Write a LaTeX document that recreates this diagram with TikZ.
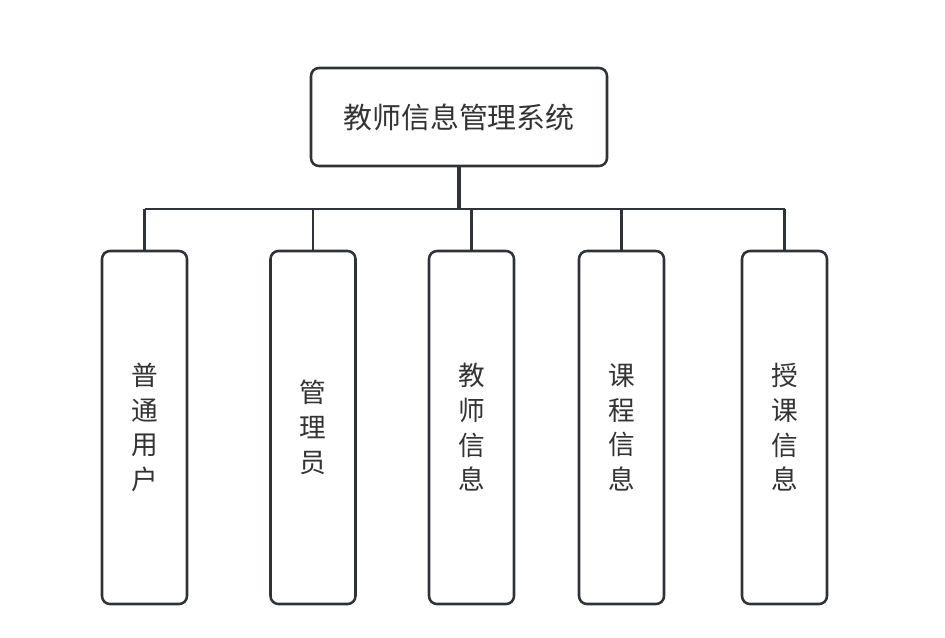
\documentclass[tikz,border=0pt]{standalone}
\usepackage{fontspec}
\setmainfont{Noto Sans CJK SC}
\usepackage{tikz}

\definecolor{linegray}{HTML}{2F3337}
\definecolor{textgray}{HTML}{333333}

\begin{document}
\begin{tikzpicture}[x=0.75pt,y=-0.75pt,
		box/.style={draw=linegray, line width=1.9pt, rounded corners=6pt, fill=white,
			text=textgray, font=\fontsize{20}{26}\selectfont, align=center, inner sep=0pt},
		topbox/.style={box, minimum width=222pt, minimum height=73.5pt, font=\fontsize{21.7}{26}\selectfont},
		leafbox/.style={box, minimum width=63.75pt, minimum height=264.75pt},
		link/.style={draw=linegray, line width=1.7pt}]
			\useasboundingbox (0,0) rectangle (945,637);
			
			% Nodo raiz
			\node[topbox] (root) at (459,117) {教师信息管理系统};
			
			% Modulos
			\foreach \name/\x/\txt in {
				user/144.5/{普\\通\\用\\户},
				admin/313/{管\\理\\员},
				teacher/471.5/{教\\师\\信\\息},
				course/621.5/{课\\程\\信\\息},
				teach/784.5/{授\\课\\信\\息}} {
				\node[leafbox] (\name) at (\x,427.5) {\txt};
			}
			
			% Conexiones
			\coordinate (bus) at (459,209);
			\draw[link, line width=2.6pt] (root.south) -- (bus);
			\draw[link] (user.north |- bus) -- (teach.north |- bus);
			\foreach \name in {user,admin,teacher,course,teach}
				\draw[link] (\name.north |- bus) -- (\name.north);
		\end{tikzpicture}
\end{document}
